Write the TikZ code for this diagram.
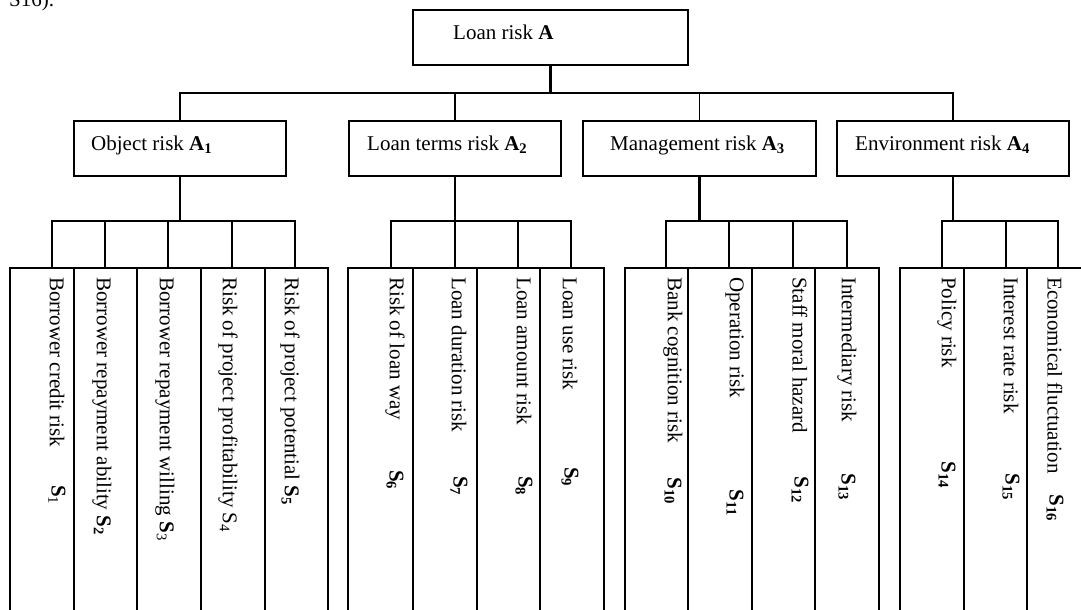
\documentclass[tikz,border=0pt]{standalone}
\usepackage{fontspec}
\setmainfont{Liberation Serif}
\begin{document}
\begin{tikzpicture}[x=1pt,y=-1pt,
  font=\fontsize{21}{25}\selectfont,
  topbox/.style={draw, line width=2pt, minimum height=55pt, inner sep=0pt, anchor=north west},
  leafbox/.style={draw, line width=2pt, minimum height=420pt, inner sep=0pt, anchor=north west},
  boxtext/.style={anchor=base west, inner sep=0pt},
  leaftext/.style={rotate=-90, anchor=west, inner sep=0pt},
  slabel/.style={rotate=-90, anchor=center, inner sep=0pt},
  wire/.style={line width=1.8pt},
  stem/.style={line width=2.6pt}]
\useasboundingbox (0,0) rectangle (1081,610);
\clip (0,0) rectangle (1081,610);

\node[boxtext] (frag) at (9,7) {S16).};

% top level
\node[topbox, minimum width=275pt] (A) at (412,9) {};
\node[boxtext] (At) at (453,40) {Loan risk \textbf{A}};

% second level
\node[topbox, minimum width=212pt] (A1) at (73,120) {};
\node[boxtext] (A1t) at (91,150) {Object risk \textbf{A\textsubscript{1}}};
\node[topbox, minimum width=212pt] (A2) at (348,120) {};
\node[boxtext] (A2t) at (367,150) {Loan terms risk \textbf{A\textsubscript{2}}};
\node[topbox, minimum width=233pt] (A3) at (582,120) {};
\node[boxtext] (A3t) at (610,150) {Management risk \textbf{A\textsubscript{3}}};
\node[topbox, minimum width=232pt] (A4) at (836,120) {};
\node[boxtext] (A4t) at (855,150) {Environment risk \textbf{A\textsubscript{4}}};

\coordinate (busA) at (0,93);
\draw[stem] (A.south) -- (A.south |- busA);
\draw[wire] (A1.north) -- (A1.north |- busA) -- (A4.north |- busA) -- (A4.north);
\draw[wire] (A2.north) -- (A2.north |- busA);
\draw[wire] (A3.north) -- (A3.north |- busA);

% leaf boxes
\node[leafbox, minimum width=64pt] (b1) at (9,267) {};
\node[leafbox, minimum width=63pt] (b2) at (73,267) {};
\node[leafbox, minimum width=64pt] (b3) at (136,267) {};
\node[leafbox, minimum width=64pt] (b4) at (200,267) {};
\node[leafbox, minimum width=63pt] (b5) at (264,267) {};

\node[leafbox, minimum width=65pt] (b6) at (347,267) {};
\node[leafbox, minimum width=64pt] (b7) at (412,267) {};
\node[leafbox, minimum width=63pt] (b8) at (476,267) {};
\node[leafbox, minimum width=64pt] (b9) at (539,267) {};

\node[leafbox, minimum width=63pt] (b10) at (624,267) {};
\node[leafbox, minimum width=64pt] (b11) at (687,267) {};
\node[leafbox, minimum width=63pt] (b12) at (751,267) {};
\node[leafbox, minimum width=64pt] (b13) at (814,267) {};

\node[leafbox, minimum width=64pt] (b14) at (899,267) {};
\node[leafbox, minimum width=63pt] (b15) at (963,267) {};
\node[leafbox, minimum width=80pt] (b16) at (1026,267) {};

% drop points
\coordinate (bus) at (0,221);
\coordinate (t1) at (52,267);
\coordinate (t2) at (105,267);
\coordinate (t3) at (168,267);
\coordinate (t4) at (232,267);
\coordinate (t5) at (295,267);
\coordinate (t6) at (391,267);
\coordinate (t7) at (455,267);
\coordinate (t8) at (518,267);
\coordinate (t9) at (571,267);
\coordinate (t10) at (666,267);
\coordinate (t11) at (729,267);
\coordinate (t12) at (793,267);
\coordinate (t13) at (847,267);
\coordinate (t14) at (942,267);
\coordinate (t15) at (1006,267);
\coordinate (t16) at (1058,267);

\draw[stem] (A1.south) -- (A1.south |- bus);
\draw[stem] (A2.south) -- (A2.south |- bus);
\draw[stem] (A3.south) -- (A3.south |- bus);
\draw[stem] (A4.south) -- (A4.south |- bus);

\draw[wire] (t1) -- (t1 |- bus) -- (t5 |- bus) -- (t5);
\foreach \i in {2,3,4} \draw[wire] (t\i) -- (t\i |- bus);
\draw[wire] (t6) -- (t6 |- bus) -- (t9 |- bus) -- (t9);
\foreach \i in {7,8} \draw[wire] (t\i) -- (t\i |- bus);
\draw[wire] (t10) -- (t10 |- bus) -- (t13 |- bus) -- (t13);
\foreach \i in {11,12} \draw[wire] (t\i) -- (t\i |- bus);
\draw[wire] (t14) -- (t14 |- bus) -- (t16 |- bus) -- (t16);
\draw[wire] (t15) -- (t15 |- bus);

% leaf texts
\node[leaftext] (l1) at (57,277) {Borrower credit risk};
\node[slabel] (s1) at (57,495) {\textbf{S}\textsubscript{1}};
\node[leaftext] (l2) at (102,277) {Borrower repayment ability \textbf{S\textsubscript{2}}};
\node[leaftext] (l3) at (165,277) {Borrower repayment willing \textbf{S}\textsubscript{3}};
\node[leaftext] (l4) at (228,277) {Risk of project profitability S\textsubscript{4}};
\node[leaftext] (l5) at (290,277) {Risk of project potential \textbf{S\textsubscript{5}}};

\node[leaftext] (l6) at (395,277) {Risk of loan way};
\node[slabel] (s6) at (395,480) {\textbf{S\textsubscript{6}}};
\node[leaftext] (l7) at (459,277) {Loan duration risk};
\node[slabel] (s7) at (459,486) {\textbf{S\textsubscript{7}}};
\node[leaftext] (l8) at (524,277) {Loan amount risk};
\node[slabel] (s8) at (524,486) {\textbf{S\textsubscript{8}}};
\node[leaftext] (l9) at (570,277) {Loan use risk};
\node[slabel] (s9) at (570,477) {\textbf{S\textsubscript{9}}};

\node[leaftext] (l10) at (673,277) {Bank cognition risk};
\node[slabel] (s10) at (673,491) {\textbf{S\textsubscript{10}}};
\node[leaftext] (l11) at (735,277) {Operation risk};
\node[slabel] (s11) at (735,503) {\textbf{S\textsubscript{11}}};
\node[leaftext] (l12) at (800,277) {Staff moral hazard};
\node[slabel] (s12) at (800,490) {\textbf{S\textsubscript{12}}};
\node[leaftext] (l13) at (847,277) {Intermediary risk};
\node[slabel] (s13) at (847,487) {\textbf{S\textsubscript{13}}};

\node[leaftext] (l14) at (947,277) {Policy risk};
\node[slabel] (s14) at (947,475) {\textbf{S\textsubscript{14}}};
\node[leaftext] (l15) at (1011,277) {Interest rate risk};
\node[slabel] (s15) at (1011,487) {\textbf{S\textsubscript{15}}};
\node[leaftext] (l16) at (1055,277) {Economical fluctuation};
\node[slabel] (s16) at (1055,508) {\textbf{S\textsubscript{16}}};
\end{tikzpicture}
\end{document}
